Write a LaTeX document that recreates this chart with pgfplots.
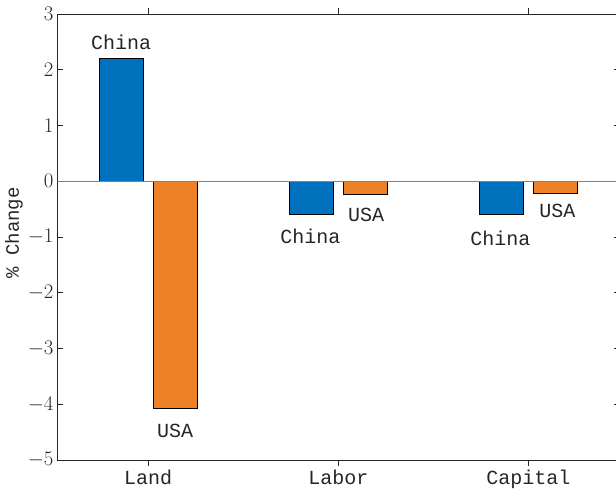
\documentclass[border=0pt]{standalone}
\usepackage{pgfplots}
\pgfplotsset{compat=1.18}
\usepackage{fontspec}
\setmainfont{Liberation Mono}
\definecolor{mblue}{RGB}{0,114,189}
\definecolor{morange}{RGB}{237,129,39}
\definecolor{axgray}{RGB}{38,38,38}
\begin{document}
\begin{tikzpicture}
\begin{axis}[name=ax, scale only axis, width=562.6pt, height=446pt,
  xmin=0.52, xmax=3.48, ymin=-5, ymax=3,
  xtick={1,2,3}, xticklabels={Land,Labor,Capital},
  ytick={-5,-4,-3,-2,-1,0,1,2,3},
  tick align=inside, major tick length=6pt,
  axis line style={axgray, line width=0.6pt},
  tick style={axgray, line width=0.6pt},
  ticklabel style={font=\fontsize{20}{24}\selectfont, text=axgray},
  ylabel={\% Change},
  ylabel style={font=\fontsize{19}{22}\selectfont, text=axgray, at={(axis description cs:-0.0764,0.509)}, anchor=center},
  ybar, bar width=0.23,
  nodes near coords={}, 
]
\addplot[fill=mblue, draw=black, line width=0.5pt, bar shift=-0.142] coordinates {(1,2.2) (2,-0.6) (3,-0.6)};
\addplot[fill=morange, draw=black, line width=0.5pt, bar shift=0.142] coordinates {(1,-4.07) (2,-0.23) (3,-0.22)};
\draw[gray, line width=0.6pt] (axis cs:0.52,0) -- (axis cs:3.48,0);
\begin{scope}[every node/.style={font=\fontsize{20}{24}\selectfont, text=axgray}]
\node at (axis cs:0.858,2.5) {China};
\node at (axis cs:1.142,-4.48) {USA};
\node at (axis cs:1.853,-0.98) {China};
\node at (axis cs:2.147,-0.61) {USA};
\node at (axis cs:2.853,-1.02) {China};
\node at (axis cs:3.153,-0.53) {USA};
\end{scope}
\end{axis}
\pgfresetboundingbox
\useasboundingbox ([xshift=-57pt, yshift=-31pt]ax.south west) rectangle ([xshift=559pt, yshift=14pt]ax.north west);
\end{tikzpicture}
\end{document}
